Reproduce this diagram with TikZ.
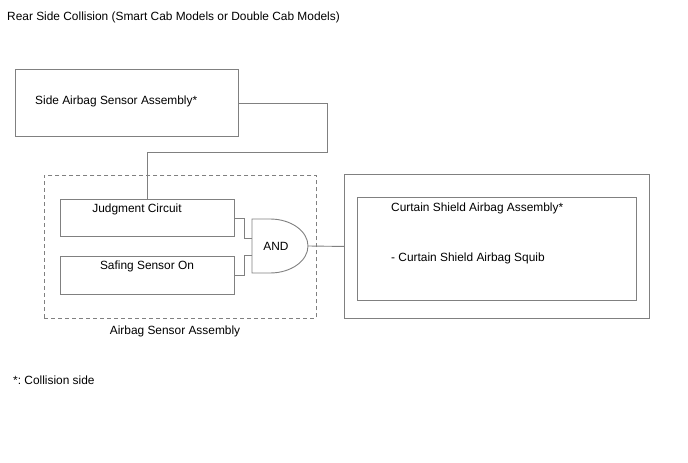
\documentclass[tikz,border=0pt]{standalone}
\usepackage{fontspec}
\setmainfont{Liberation Sans}
\begin{document}
\frenchspacing
\begin{tikzpicture}[x=1pt,y=-1pt,
  every node/.style={font=\fontsize{11.9}{14}\selectfont, inner sep=0pt},
  box/.style={draw=black!50, line width=0.9pt, rectangle, anchor=north west},
  wire/.style={draw=black!50, line width=0.9pt},
  txt/.style={anchor=west, text=black}]
\useasboundingbox (0,0) rectangle (688,463);
% title
\node[txt] (title) at (7,17) {Rear Side Collision (Smart Cab Models or Double Cab Models)};
% side airbag sensor
\node[box, minimum width=223pt, minimum height=67pt] (side) at (15,69) {};
\node[txt] (sidet) at (35,101) {Side Airbag Sensor Assembly*};
% airbag sensor assembly dashed
\node[box, dashed, dash pattern=on 4pt off 3pt, minimum width=272pt, minimum height=143pt] (asa) at (44,175) {};
\node (asat) at (175,331) {Airbag Sensor Assembly};
% judgment
\node[box, minimum width=174pt, minimum height=37pt] (judg) at (60,199) {};
\node (judgt) at (137,209) {Judgment Circuit};
% safing
\node[box, minimum width=174pt, minimum height=38pt] (saf) at (60,256) {};
\node (saft) at (147,266) {Safing Sensor On};
% AND gate
\draw[wire] (252,219) -- (270,219) arc[start angle=-90, end angle=90, x radius=38, y radius=27] -- (252,273) -- cycle;
\coordinate (in1) at (252,238);
\coordinate (in2) at (252,255);
\coordinate (gout) at (308,246);
\node (andt) at (276,246) {AND};
% curtain
\node[box, minimum width=305pt, minimum height=144pt] (outer) at (344,174) {};
\node[box, minimum width=279pt, minimum height=103pt] (inner) at (357,197) {};
\node[txt] (c1) at (391,208) {Curtain Shield Airbag Assembly*};
\node[txt] (c2) at (391,258) {- Curtain Shield Airbag Squib};
% footnote
\node[txt] (foot) at (13,380) {*: Collision side};
% wires
\draw[wire] (side.east) -| (327,152) -| (judg.north);
\draw[wire] (judg.east) -- ++(10,0) |- (in1);
\draw[wire] (saf.east) -- ++(10,0) |- (in2);
\draw[wire] (gout) -- (outer.west);
\end{tikzpicture}
\end{document}
